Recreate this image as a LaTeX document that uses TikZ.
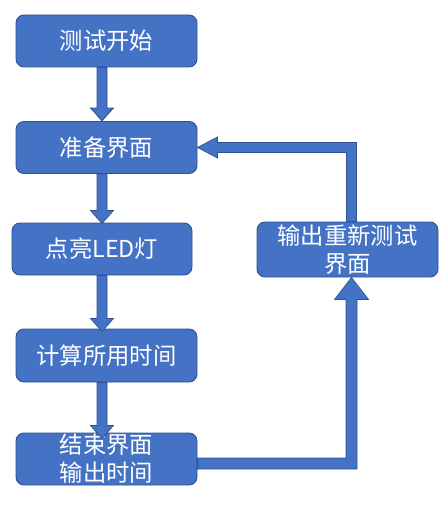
\documentclass[tikz,border=0pt]{standalone}
\usepackage{fontspec}
\setmainfont{Noto Sans CJK SC}
\usetikzlibrary{calc}
\definecolor{boxfill}{HTML}{4472C4}
\definecolor{boxline}{HTML}{2F528F}
\tikzset{
  flowbox/.style={rectangle, rounded corners=6pt, fill=boxfill, draw=boxline, line width=0.7pt,
    text=white, font=\fontsize{17.5}{21}\selectfont, align=center, inner sep=0pt,
    minimum width=135.75pt, minimum height=39pt},
  blockarr/.style={fill=boxfill, draw=boxline, line width=0.5pt, line join=miter}
}
\newcommand\blockdown[2]{%
  \path[blockarr] ($(#1)+(-5,0)$) -- ($(#2)+(-5,-13)$) -- ($(#2)+(-11.5,-13)$) -- (#2)
    -- ($(#2)+(11.5,-13)$) -- ($(#2)+(5,-13)$) -- ($(#1)+(5,0)$) -- cycle;}
\begin{document}
\begin{tikzpicture}[x=0.75pt,y=-0.75pt]
\useasboundingbox (0,0) rectangle (447,517);
\node[flowbox] (b1) at (106.5,41) {测试开始};
\node[flowbox] (b2) at (106.5,147.5) {准备界面};
\node[flowbox, minimum width=135pt] (b3) at (102,249) {点亮LED灯};
\node[flowbox, minimum height=39.75pt] (b4) at (106.5,355.5) {计算所用时间};
\node[flowbox] (b5) at (106.5,459) {结束界面\\输出时间};
\node[flowbox, minimum height=41.25pt] (b6) at (347.5,249.5) {输出重新测试\\界面};
\coordinate (col) at (102,0);
\coordinate (a1s) at (b1.south -| col);
\coordinate (a1e) at (b2.north -| col);
\coordinate (a2s) at (b2.south -| col);
\coordinate (a2e) at ($(b3.north -| col)+(0,1)$);
\coordinate (a3s) at (b3.south -| col);
\coordinate (a3e) at ($(b4.north -| col)+(0,3)$);
\coordinate (a4s) at (b4.south -| col);
\coordinate (a4e) at ($(b5.north -| col)+(0,6)$);
\blockdown{a1s}{a1e}
\blockdown{a2s}{a2e}
\blockdown{a3s}{a3e}
\blockdown{a4s}{a4e}
% bottom loop: b5 -> b6
\coordinate (p) at ($(b5.east)+(0,4.5)$);
\coordinate (q) at ($(b6.south)+(4,0)$);
\coordinate (k) at (q |- p);
\path[blockarr] ($(p)+(0,-5.5)$) -- ($(k)+(-5.5,-5.5)$) -- ($(q)+(-5.5,22)$) -- ($(q)+(-17,22)$)
  -- (q) -- ($(q)+(17,22)$) -- ($(q)+(5.5,22)$) -- ($(k)+(5.5,5.5)$) -- ($(p)+(0,5.5)$) -- cycle;
% top loop: b6 -> b2
\coordinate (r) at ($(b6.north)+(4,0)$);
\coordinate (s) at (b2.east);
\coordinate (k2) at (r |- s);
\path[blockarr] ($(r)+(-5,0)$) -- ($(k2)+(-5,5)$) -- ($(s)+(20,5)$) -- ($(s)+(20,10.5)$)
  -- (s) -- ($(s)+(20,-10.5)$) -- ($(s)+(20,-5)$) -- ($(k2)+(5,-5)$) -- ($(r)+(5,0)$) -- cycle;
\end{tikzpicture}
\end{document}
